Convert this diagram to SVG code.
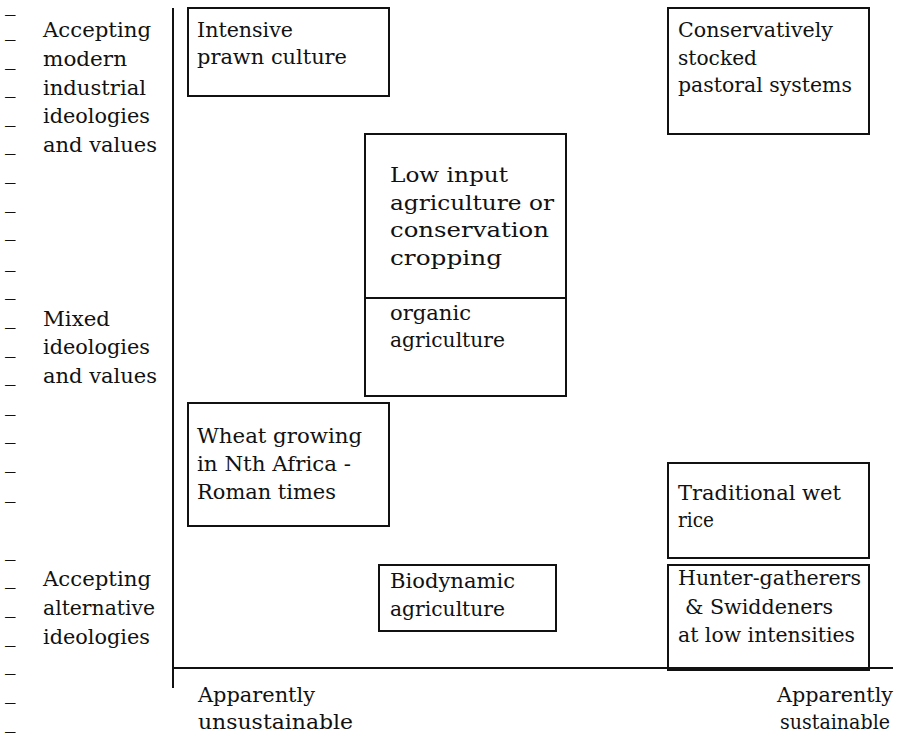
<svg xmlns="http://www.w3.org/2000/svg" width="899" height="737" viewBox="0 0 899 737">
<style>
text{font-family:'DejaVu Serif','Liberation Serif',serif;font-size:21px;fill:#111}
.box{fill:none;stroke:#111;stroke-width:2}
.axis{stroke:#111;stroke-width:2;fill:none}
</style>
<rect width="899" height="737" fill="#fff"/>
<g id="ticks">
<text x="5" y="11">_</text><text x="5" y="36">_</text><text x="5" y="65">_</text><text x="5" y="93">_</text><text x="5" y="122">_</text><text x="5" y="150">_</text><text x="5" y="179">_</text><text x="5" y="208">_</text><text x="5" y="236">_</text><text x="5" y="267">_</text><text x="5" y="295">_</text><text x="5" y="324">_</text><text x="5" y="353">_</text><text x="5" y="381">_</text><text x="5" y="411">_</text><text x="5" y="439">_</text><text x="5" y="468">_</text><text x="5" y="498">_</text><text x="5" y="556">_</text><text x="5" y="584">_</text><text x="5" y="613">_</text><text x="5" y="642">_</text><text x="5" y="670">_</text><text x="5" y="699">_</text><text x="5" y="728">_</text>
</g>
<g id="y-labels">
<text x="43" y="37" textLength="108" lengthAdjust="spacingAndGlyphs">Accepting</text>
<text x="43" y="66" textLength="84" lengthAdjust="spacingAndGlyphs">modern</text>
<text x="43" y="94.5" textLength="103" lengthAdjust="spacingAndGlyphs">industrial</text>
<text x="43" y="123" textLength="107" lengthAdjust="spacingAndGlyphs">ideologies</text>
<text x="43" y="151.5" textLength="114" lengthAdjust="spacingAndGlyphs">and values</text>
<text x="43" y="325.5" textLength="67" lengthAdjust="spacingAndGlyphs">Mixed</text>
<text x="43" y="354" textLength="107" lengthAdjust="spacingAndGlyphs">ideologies</text>
<text x="43" y="383" textLength="114" lengthAdjust="spacingAndGlyphs">and values</text>
<text x="43" y="586" textLength="108" lengthAdjust="spacingAndGlyphs">Accepting</text>
<text x="43" y="614.5" textLength="112" lengthAdjust="spacingAndGlyphs">alternative</text>
<text x="43" y="643.5" textLength="107" lengthAdjust="spacingAndGlyphs">ideologies</text>
</g>
<g id="axes">
<line class="axis" x1="173" y1="8" x2="173" y2="688"/>
<line class="axis" x1="173" y1="668" x2="893" y2="668"/>
</g>
<g id="x-labels">
<text x="198" y="702" textLength="117" lengthAdjust="spacingAndGlyphs">Apparently</text>
<text x="198" y="729" textLength="155" lengthAdjust="spacingAndGlyphs">unsustainable</text>
<text x="777" y="702" textLength="116" lengthAdjust="spacingAndGlyphs">Apparently</text>
<text x="780" y="729" style="font-size:20px" textLength="110" lengthAdjust="spacingAndGlyphs">sustainable</text>
</g>
<g id="intensive-prawn">
<rect class="box" x="188" y="8" width="201" height="88"/>
<text x="197" y="37" textLength="96" lengthAdjust="spacingAndGlyphs">Intensive</text>
<text x="197" y="64" textLength="150" lengthAdjust="spacingAndGlyphs">prawn culture</text>
</g>
<g id="pastoral">
<rect class="box" x="668" y="8" width="201" height="126"/>
<text x="678" y="37" textLength="155" lengthAdjust="spacingAndGlyphs">Conservatively</text>
<text x="678" y="65" textLength="79" lengthAdjust="spacingAndGlyphs">stocked</text>
<text x="678" y="92" textLength="174" lengthAdjust="spacingAndGlyphs">pastoral systems</text>
</g>
<g id="low-input">
<rect class="box" x="365" y="134" width="201" height="164"/>
<text x="390" y="182" textLength="118" lengthAdjust="spacingAndGlyphs">Low input</text>
<text x="390" y="209.5" textLength="164" lengthAdjust="spacingAndGlyphs">agriculture or</text>
<text x="390" y="237" textLength="159" lengthAdjust="spacingAndGlyphs">conservation</text>
<text x="390" y="264.5" textLength="112" lengthAdjust="spacingAndGlyphs">cropping</text>
</g>
<g id="organic">
<rect class="box" x="365" y="298" width="201" height="98"/>
<text x="390" y="320" textLength="81" lengthAdjust="spacingAndGlyphs">organic</text>
<text x="390" y="347" textLength="115" lengthAdjust="spacingAndGlyphs">agriculture</text>
</g>
<g id="wheat">
<rect class="box" x="188" y="403" width="201" height="123"/>
<text x="197" y="443" textLength="165" lengthAdjust="spacingAndGlyphs">Wheat growing</text>
<text x="197" y="471" textLength="154" lengthAdjust="spacingAndGlyphs">in Nth Africa -</text>
<text x="197" y="499" textLength="139" lengthAdjust="spacingAndGlyphs">Roman times</text>
</g>
<g id="wet-rice">
<rect class="box" x="668" y="463" width="201" height="95"/>
<text x="678" y="500" textLength="163" lengthAdjust="spacingAndGlyphs">Traditional wet</text>
<text x="678" y="527" textLength="36" lengthAdjust="spacingAndGlyphs">rice</text>
</g>
<g id="biodynamic">
<rect class="box" x="379" y="565" width="177" height="66"/>
<text x="390" y="588" textLength="125" lengthAdjust="spacingAndGlyphs">Biodynamic</text>
<text x="390" y="616" textLength="115" lengthAdjust="spacingAndGlyphs">agriculture</text>
</g>
<g id="hunter-gatherers">
<rect class="box" x="668" y="565" width="201" height="105"/>
<text x="678" y="585" textLength="183" lengthAdjust="spacingAndGlyphs">Hunter-gatherers</text>
<text x="685" y="613.5" textLength="148" lengthAdjust="spacingAndGlyphs">&amp; Swiddeners</text>
<text x="678" y="642" textLength="177" lengthAdjust="spacingAndGlyphs">at low intensities</text>
</g>
</svg>
